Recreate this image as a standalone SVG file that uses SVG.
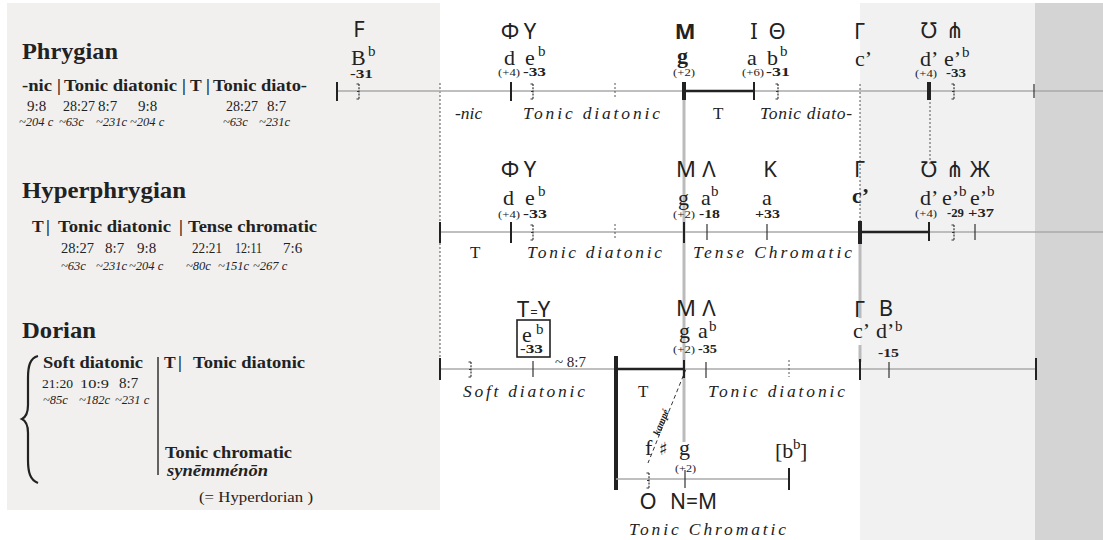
<svg xmlns="http://www.w3.org/2000/svg" xmlns:xlink="http://www.w3.org/1999/xlink" width="1103" height="540" viewBox="0 0 1103 540">
<style>
.sf{font-family:"Liberation Serif","DejaVu Serif",serif;fill:#222}
.hd{font-size:24px;font-weight:bold}
.sb{font-size:17.5px;font-weight:bold}
.ra{font-size:15px}
.ce{font-size:12.5px;font-style:italic}
.gk{font-family:"Noto Sans","DejaVu Sans",sans-serif;font-size:22px;fill:#222}
.nt{font-size:22px}
.sup{font-size:15px}
.cn{font-size:13px;font-weight:bold}
.pr{font-size:9.5px}
.lb{font-size:17.5px;font-style:italic}
.gl{stroke:#aaa;stroke-width:1.5;fill:none}
.tk{stroke:#222;stroke-width:2;fill:none}
.tt{stroke:#333;stroke-width:1.2;fill:none}
.th{stroke:#222;stroke-width:4;fill:none}
.dt{stroke:#555;stroke-width:1;stroke-dasharray:2,2;fill:none}
.gv{stroke:#bbb;stroke-width:3;fill:none}
</style>
<defs>
<g id="ft">
<line x1="0" y1="-7" x2="0" y2="8" stroke="#333" stroke-width="1.2" stroke-dasharray="2,1.2"/>
<line x1="-2.5" y1="-7" x2="0" y2="-7" stroke="#333" stroke-width="1"/>
<line x1="-2.5" y1="8" x2="0" y2="8" stroke="#333" stroke-width="1"/>
<line x1="-2" y1="0.5" x2="0" y2="0.5" stroke="#333" stroke-width="1"/>
</g>
</defs>
<rect width="1103" height="540" fill="#ffffff"/>
<g id="panels">
<rect x="7" y="3" width="433" height="507" fill="#f1f0ef"/>
<rect x="860" y="3" width="175" height="537" fill="#f1f1f1"/>
<rect x="1035" y="3" width="68" height="537" fill="#d4d4d4"/>
</g>

<g id="left-phrygian">
<text class="sf hd" x="22" y="59" textLength="96" lengthAdjust="spacingAndGlyphs">Phrygian</text>
<text class="sf sb" x="22" y="91" textLength="30" lengthAdjust="spacingAndGlyphs">-nic</text>
<text class="sf sb" x="57" y="91">|</text>
<text class="sf sb" x="64" y="91" textLength="113" lengthAdjust="spacingAndGlyphs">Tonic diatonic</text>
<text class="sf sb" x="182" y="91">|</text>
<text class="sf sb" x="190" y="91">T</text>
<text class="sf sb" x="206" y="91">|</text>
<text class="sf sb" x="213" y="91" textLength="94" lengthAdjust="spacingAndGlyphs">Tonic diato-</text>
<g class="sf ra">
<text x="27" y="111">9:8</text><text x="63" y="111" textLength="32" lengthAdjust="spacingAndGlyphs">28:27</text><text x="98" y="111">8:7</text><text x="138" y="111">9:8</text><text x="226" y="111" textLength="32" lengthAdjust="spacingAndGlyphs">28:27</text><text x="267" y="111">8:7</text>
</g>
<g class="sf ce">
<text x="19" y="126">~204 c</text><text x="59" y="126">~63c</text><text x="96" y="126">~231c</text><text x="130" y="126">~204 c</text><text x="223" y="126">~63c</text><text x="259" y="126">~231c</text>
</g>
</g>

<g id="left-hyperphrygian">
<text class="sf hd" x="22" y="198" textLength="164" lengthAdjust="spacingAndGlyphs">Hyperphrygian</text>
<text class="sf sb" x="32" y="232">T</text>
<text class="sf sb" x="46" y="232">|</text>
<text class="sf sb" x="58" y="232" textLength="113" lengthAdjust="spacingAndGlyphs">Tonic diatonic</text>
<text class="sf sb" x="179" y="232">|</text>
<text class="sf sb" x="188" y="232" textLength="129" lengthAdjust="spacingAndGlyphs">Tense chromatic</text>
<g class="sf ra">
<text x="61" y="253" textLength="33" lengthAdjust="spacingAndGlyphs">28:27</text><text x="105" y="253">8:7</text><text x="137" y="253">9:8</text><text x="192" y="253" textLength="30" lengthAdjust="spacingAndGlyphs">22:21</text><text x="235" y="253" textLength="27" lengthAdjust="spacingAndGlyphs">12:11</text><text x="283" y="253">7:6</text>
</g>
<g class="sf ce">
<text x="61" y="270">~63c</text><text x="96" y="270">~231c</text><text x="129" y="270">~204 c</text><text x="186" y="270">~80c</text><text x="218" y="270">~151c</text><text x="253" y="270">~267 c</text>
</g>
</g>

<g id="left-dorian">
<text class="sf hd" x="22" y="338" textLength="74" lengthAdjust="spacingAndGlyphs">Dorian</text>
<path d="M38,356 C30,358 28,366 28,378 L28,405 C28,413 26,417 22,419 C26,421 28,425 28,433 L28,460 C28,472 30,480 38,483" fill="none" stroke="#222" stroke-width="2.2"/>
<text class="sf sb" x="43" y="368" textLength="100" lengthAdjust="spacingAndGlyphs">Soft diatonic</text>
<line x1="158" y1="357" x2="158" y2="475" stroke="#333" stroke-width="1.5"/>
<text class="sf sb" x="164" y="368">T</text>
<text class="sf sb" x="178" y="368">|</text>
<text class="sf sb" x="193" y="368" textLength="112" lengthAdjust="spacingAndGlyphs">Tonic diatonic</text>
<g class="sf" font-size="13.5">
<text x="42" y="388" textLength="31" lengthAdjust="spacingAndGlyphs">21:20</text><text x="80" y="388" textLength="29" lengthAdjust="spacingAndGlyphs">10:9</text><text x="119" y="388" font-size="15">8:7</text>
</g>
<g class="sf ce">
<text x="43" y="404">~85c</text><text x="79" y="404">~182c</text><text x="115" y="404">~231 c</text>
</g>
<text class="sf sb" x="165" y="458" textLength="127" lengthAdjust="spacingAndGlyphs">Tonic chromatic</text>
<text class="sf sb" x="167" y="476" font-style="italic" textLength="101" lengthAdjust="spacingAndGlyphs">synēmménōn</text>
<text class="sf" x="199" y="502" font-size="15" textLength="114" lengthAdjust="spacingAndGlyphs">(= Hyperdorian )</text>
</g>

<g id="connectors">
<line class="dt" x1="440" y1="83" x2="440" y2="360"/>
<line class="dt" x1="860" y1="84" x2="860" y2="222"/>
<line class="dt" x1="930" y1="98" x2="930" y2="165"/>
<line class="gv" x1="684" y1="92" x2="684" y2="442"/>
<line class="gv" x1="860" y1="233" x2="860" y2="318"/>
<line class="gv" x1="860" y1="345" x2="860" y2="362"/>
<line x1="686" y1="369" x2="648" y2="463" stroke="#333" stroke-width="1" stroke-dasharray="4,3"/>
<text class="sf" font-size="10" font-weight="bold" font-style="italic" transform="translate(659,436) rotate(-68)">kampé</text>
</g>

<g id="scale-phrygian">
<line class="gl" x1="337" y1="91" x2="1103" y2="91"/>
<line class="tk" x1="337" y1="82" x2="337" y2="101"/>
<use xlink:href="#ft" x="359" y="91"/>
<line class="tk" x1="511" y1="82" x2="511" y2="101"/>
<use xlink:href="#ft" x="533" y="91"/>
<line class="dt" x1="615" y1="83" x2="615" y2="99"/>
<line class="th" x1="684" y1="82" x2="684" y2="100"/>
<line x1="684" y1="91" x2="755" y2="91" stroke="#222" stroke-width="2.5"/>
<line class="tk" x1="754" y1="82" x2="754" y2="100"/>
<use xlink:href="#ft" x="778" y="91"/>
<line class="th" x1="929" y1="82" x2="929" y2="100" stroke-width="3"/>
<use xlink:href="#ft" x="954" y="91"/>
<line class="tt" x1="1034" y1="84" x2="1034" y2="98" stroke-width="1.5"/>
<g class="gk">
<text x="359" y="37" text-anchor="middle">F</text>
<text x="510" y="39" text-anchor="middle">Φ</text><text x="530" y="39" text-anchor="middle">Υ</text>
<text x="685" y="39" text-anchor="middle" font-weight="bold">M</text>
<text x="754" y="39" text-anchor="middle">I</text><text x="777" y="39" text-anchor="middle">Θ</text>
<text x="854" y="39">Γ</text>
<text x="928" y="38" text-anchor="middle">℧</text><text x="955" y="38" text-anchor="middle">⋔</text>
</g>
<g class="sf">
<text class="nt" x="351" y="65">B</text><text class="sup" x="368" y="56">b</text>
<text class="cn" x="350" y="78" textLength="23" lengthAdjust="spacingAndGlyphs">-31</text>
<text class="nt" x="504" y="65">d</text><text class="nt" x="525" y="65">e</text><text class="sup" x="538" y="56">b</text>
<text class="pr" x="498" y="76" textLength="22" lengthAdjust="spacingAndGlyphs">(+4)</text><text class="cn" x="523" y="76" textLength="23" lengthAdjust="spacingAndGlyphs">-33</text>
<text class="nt" x="677" y="63" font-weight="bold">g</text>
<text class="pr" x="673" y="76" textLength="22" lengthAdjust="spacingAndGlyphs">(+2)</text>
<text class="nt" x="747" y="65">a</text><text class="nt" x="767" y="65">b</text><text class="sup" x="780" y="56">b</text>
<text class="pr" x="742" y="76" textLength="22" lengthAdjust="spacingAndGlyphs">(+6)</text><text class="cn" x="766" y="76" textLength="24" lengthAdjust="spacingAndGlyphs">-31</text>
<text class="nt" x="855" y="66">c’</text>
<text class="nt" x="920" y="66">d’</text><text class="nt" x="944" y="66">e’</text><text class="sup" x="962" y="57">b</text>
<text class="pr" x="915" y="77" textLength="22" lengthAdjust="spacingAndGlyphs">(+4)</text><text class="cn" x="946" y="77" textLength="20" lengthAdjust="spacingAndGlyphs">-33</text>
<text class="lb" x="455" y="119">-nic</text>
<text class="lb" x="523" y="119" textLength="137">Tonic diatonic</text>
<text x="713" y="119" font-size="17">T</text>
<text class="lb" x="760" y="119" textLength="92">Tonic diato-</text>
</g>
</g>

<g id="scale-hyperphrygian">
<line class="gl" x1="440" y1="232" x2="1103" y2="232"/>
<line class="tk" x1="440" y1="222" x2="440" y2="243"/>
<line class="tk" x1="511" y1="222" x2="511" y2="243"/>
<use xlink:href="#ft" x="533" y="232"/>
<line class="dt" x1="615" y1="224" x2="615" y2="240"/>
<line class="tk" x1="684" y1="222" x2="684" y2="243"/>
<line class="tt" x1="707" y1="224" x2="707" y2="240"/>
<line class="tt" x1="767" y1="224" x2="767" y2="240"/>
<line class="th" x1="860" y1="221" x2="860" y2="244"/>
<line x1="860" y1="232" x2="929" y2="232" stroke="#222" stroke-width="2.5"/>
<line class="tk" x1="929" y1="222" x2="929" y2="241"/>
<use xlink:href="#ft" x="954" y="232"/>
<line class="tt" x1="975" y1="224" x2="975" y2="240"/>
<g class="gk">
<text x="510" y="177" text-anchor="middle">Φ</text><text x="530" y="177" text-anchor="middle">Υ</text>
<text x="686" y="177" text-anchor="middle">M</text><text x="709" y="177" text-anchor="middle">Λ</text>
<text x="770" y="177" text-anchor="middle">K</text>
<text x="854" y="177">Γ</text>
<text x="928" y="177" text-anchor="middle">℧</text><text x="955" y="177" text-anchor="middle">⋔</text><text x="980" y="177" text-anchor="middle">Ж</text>
</g>
<g class="sf">
<text class="nt" x="503" y="205">d</text><text class="nt" x="525" y="205">e</text><text class="sup" x="538" y="196">b</text>
<text class="pr" x="498" y="218" textLength="22" lengthAdjust="spacingAndGlyphs">(+4)</text><text class="cn" x="523" y="218" textLength="24" lengthAdjust="spacingAndGlyphs">-33</text>
<text class="nt" x="678" y="205">g</text>
<text class="nt" x="701" y="205">a</text><text class="sup" x="711" y="196">b</text>
<text class="pr" x="673" y="218" textLength="22" lengthAdjust="spacingAndGlyphs">(+2)</text><text class="cn" x="699" y="218" textLength="21" lengthAdjust="spacingAndGlyphs">-18</text>
<text class="nt" x="762" y="205">a</text>
<text class="cn" x="755" y="218" textLength="25" lengthAdjust="spacingAndGlyphs">+33</text>
<text class="nt" x="852" y="203" font-weight="bold">c’</text>
<text class="nt" x="920" y="205">d’</text>
<text class="nt" x="942" y="205">e’</text><text class="sup" x="959" y="196">b</text>
<text class="nt" x="970" y="205">e’</text><text class="sup" x="987" y="196">b</text>
<text class="pr" x="915" y="217" textLength="22" lengthAdjust="spacingAndGlyphs">(+4)</text><text class="cn" x="947" y="217" textLength="17" lengthAdjust="spacingAndGlyphs">-29</text><text class="cn" x="968" y="217" textLength="26" lengthAdjust="spacingAndGlyphs">+37</text>
<text x="470" y="258" font-size="17">T</text>
<text class="lb" x="527" y="258" textLength="135">Tonic diatonic</text>
<text class="lb" x="693" y="258" textLength="159">Tense Chromatic</text>
</g>
</g>

<g id="scale-dorian">
<line class="gl" x1="440" y1="369" x2="1036" y2="369"/>
<line class="tk" x1="440" y1="358" x2="440" y2="380"/>
<use xlink:href="#ft" x="471" y="369"/>
<line class="tt" x1="533" y1="361" x2="533" y2="377"/>
<line x1="616" y1="356" x2="616" y2="490" stroke="#222" stroke-width="4"/>
<line x1="616" y1="369" x2="684" y2="369" stroke="#222" stroke-width="2.5"/>
<line class="tk" x1="684" y1="360" x2="684" y2="378"/>
<line class="tt" x1="706" y1="362" x2="706" y2="378"/>
<line class="dt" x1="789" y1="360" x2="789" y2="377"/>
<line class="tk" x1="860" y1="359" x2="860" y2="380"/>
<line class="tt" x1="889" y1="362" x2="889" y2="378"/>
<line class="tk" x1="1036" y1="358" x2="1036" y2="380"/>
<rect x="517" y="320" width="33" height="37" fill="none" stroke="#222" stroke-width="1.6"/>
<g class="gk">
<text x="523" y="317" text-anchor="middle">T</text><text x="534" y="317" text-anchor="middle" font-size="13">=</text><text x="544" y="317" text-anchor="middle">Υ</text>
<text x="686" y="316" text-anchor="middle">M</text><text x="709" y="316" text-anchor="middle">Λ</text>
<text x="854" y="317">Γ</text>
<text x="886" y="316" text-anchor="middle">B</text>
</g>
<g class="sf">
<text class="nt" x="522" y="342">e</text><text class="sup" x="536" y="334">b</text>
<text class="cn" x="520" y="353" textLength="23" lengthAdjust="spacingAndGlyphs">-33</text>
<text x="555" y="367" font-size="15">~ 8:7</text>
<text class="nt" x="679" y="338">g</text>
<text class="nt" x="698" y="338">a</text><text class="sup" x="709" y="331">b</text>
<text class="pr" x="673" y="353" textLength="22" lengthAdjust="spacingAndGlyphs">(+2)</text><text class="cn" x="698" y="353" textLength="19" lengthAdjust="spacingAndGlyphs">-35</text>
<text class="nt" x="853" y="338">c’</text>
<text class="nt" x="876" y="338">d’</text><text class="sup" x="895" y="331">b</text>
<text class="cn" x="878" y="357" textLength="21" lengthAdjust="spacingAndGlyphs">-15</text>
<text class="lb" x="463" y="397" textLength="122">Soft diatonic</text>
<text x="638" y="397" font-size="17">T</text>
<text class="lb" x="708" y="397" textLength="137">Tonic diatonic</text>
</g>
</g>

<g id="scale-synemmenon">
<line class="gl" x1="616" y1="479" x2="789" y2="479"/>
<use xlink:href="#ft" x="649" y="480"/>
<line class="tt" x1="685" y1="470" x2="685" y2="488"/>
<line class="tk" x1="789" y1="468" x2="789" y2="490"/>
<g class="sf">
<text class="nt" x="645" y="455">f</text>
<text x="659" y="455" font-size="18" font-family="DejaVu Sans, sans-serif">♯</text>
<text class="nt" x="679" y="455">g</text>
<text class="pr" x="675" y="472" textLength="21" lengthAdjust="spacingAndGlyphs">(+2)</text>
<text class="nt" x="775" y="458">[b</text><text class="sup" x="793" y="449">b</text><text class="nt" x="800" y="458">]</text>
<text class="lb" x="629" y="535" textLength="157">Tonic Chromatic</text>
</g>
<g class="gk">
<text x="648" y="509" text-anchor="middle">O</text>
<text x="670" y="509" textLength="47" lengthAdjust="spacingAndGlyphs">N=M</text>
</g>
</g>
</svg>
